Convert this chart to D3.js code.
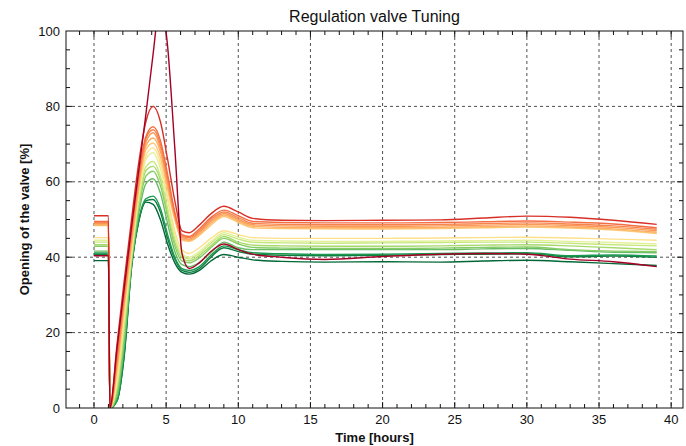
<!DOCTYPE html>
<html>
<head>
<meta charset="utf-8">
<script src="https://cdn.jsdelivr.net/npm/d3@7"></script>
<style>
body { margin: 0; background: #fff; }
text { font-family: "Liberation Sans", Arial, sans-serif; fill: #111; }
</style>
</head>
<body>
<svg id="chart" width="686" height="446"></svg>
<script>
// time stamps (hours) shared by all runs
var hours = [0, 1.0, 1.1, 1.6, 2.1, 2.6, 3.1, 3.6, 4.1, 4.6, 5.1, 5.6, 6.1, 6.6, 7.3, 8.1, 9.0, 10, 11, 13, 16, 20, 24, 27, 30, 33, 36, 39];

// valve opening [%] per tuning run, red (aggressive) -> green (soft)
var runOvershoot = [40.4, 40.4, 0, 16, 32, 48, 63, 78, 94, 108, 96, 69, 41, 37, 38.5, 41.5, 43.5, 42, 40.8, 40, 39.4, 40.2, 40.8, 41, 40.8, 39.5, 38.8, 37.5];
var run01 = [51, 51, 0, 17, 34, 50, 65, 76, 80, 76, 66, 55, 47, 46.5, 48.5, 51.5, 53.5, 52, 50.3, 49.8, 49.7, 49.8, 49.9, 50.4, 50.9, 50.6, 49.8, 48.7];
var run02 = [49.5, 49.5, 0, 14, 31, 47, 62, 72, 74.6, 71, 62, 52, 46, 45.5, 47.5, 50.5, 52.5, 51, 49.5, 49.2, 49.1, 49.1, 49.2, 49.4, 49.6, 49.3, 48.8, 47.8];
var run03 = [49.2, 49.2, 0, 13, 30, 46, 61, 71.5, 73.8, 70, 61, 51.5, 45.6, 45.2, 47, 50, 52, 50.5, 49, 48.7, 48.6, 48.6, 48.7, 48.9, 49.1, 48.8, 48.3, 47.4];
var run04 = [49, 49, 0, 12, 29, 45, 60, 70.5, 73, 69, 60, 51, 45.2, 44.8, 46.6, 49.5, 51.6, 50, 48.6, 48.3, 48.2, 48.2, 48.3, 48.5, 48.7, 48.4, 47.9, 47];
var run05 = [48.6, 48.6, 0, 11, 28, 44, 59, 69.5, 71.6, 68, 59, 50.5, 44.8, 44.5, 46.2, 49, 51.2, 49.6, 48.2, 47.9, 47.8, 47.8, 47.9, 48.1, 48.3, 48, 47.5, 46.6];
var run06 = [48.4, 48.4, 0, 10, 27, 43, 58, 68.5, 70.3, 66.5, 58, 50, 44.5, 44.2, 45.8, 48.5, 50.8, 49.2, 47.8, 47.6, 47.5, 47.5, 47.6, 47.8, 48, 47.7, 47.2, 46.3];
var run07 = [45.2, 45.2, 0, 8, 25, 42, 57, 67, 69, 65, 56, 47, 42, 41, 42.5, 45, 47, 46, 45.2, 45, 45, 45, 45.1, 45.2, 45.3, 45.1, 44.8, 44.5];
var run08 = [44.5, 44.5, 0, 7, 24, 41, 56, 66, 67.7, 63.5, 55, 46, 41, 40, 41.5, 44.2, 46.5, 45.3, 44.5, 44.3, 44.2, 44.2, 44.3, 44.4, 44.5, 44.2, 43.9, 43.5];
var run09 = [44, 44, 0, 6, 22, 40, 55, 64, 65.4, 61.5, 53, 45, 40.5, 39.5, 41, 43.7, 46, 44.8, 44, 43.8, 43.7, 43.8, 43.9, 44, 44, 43.7, 43.3, 43];
var run10 = [43.3, 43.3, 0, 5, 21, 40, 54, 63, 64.1, 60.5, 52, 44, 39.8, 39, 40.4, 43, 45.5, 44, 43.2, 43, 42.9, 42.9, 43, 43.2, 43.3, 43, 42.5, 42];
var run11 = [42.9, 42.9, 0, 4, 19, 39, 53, 61.5, 62.8, 59, 51, 43, 39, 38.5, 39.8, 42.5, 45, 43.5, 42.6, 42.4, 42.3, 42.3, 42.4, 42.6, 42.7, 42, 41.6, 41.5];
var run12 = [41.6, 41.6, 0, 3, 17, 38, 51.5, 59.5, 60.8, 57, 49, 41.5, 38, 37.5, 38.6, 41.2, 44, 42.5, 42, 42, 42, 42, 42, 42.2, 42.3, 41.8, 41.3, 41.2];
var run13 = [41.1, 41.1, 0, 2, 15, 38, 50, 55.5, 56.2, 53, 46, 40, 37, 36.5, 37.5, 40.5, 43, 42, 41.2, 40.9, 40.7, 40.8, 41, 41.1, 41.2, 40.4, 40.6, 40.3];
var run14 = [40.8, 40.8, 0, 2, 14.5, 37.5, 49.5, 55, 55.3, 52, 45, 39.5, 36.5, 36, 37, 40, 42.5, 41.5, 40.8, 40.5, 40.4, 40.5, 40.7, 40.8, 40.9, 40.1, 40.3, 40];
var run15 = [39.1, 39.1, 0, 2, 14, 37, 49.5, 54.6, 54, 50, 43.5, 38.5, 36, 35.5, 36.5, 39, 40.7, 40, 39.3, 38.9, 38.7, 38.8, 38.7, 39, 39.2, 38.8, 38.3, 37.8];

var runs = [run15, run14, run13, run12, run11, run10, run09, run08, run07, run06, run05, run04, run03, run02, run01, runOvershoot];
var runColors = ["#006837", "#0f7d40", "#1a9850", "#66bd63", "#86cb66", "#a6d96a", "#c7e77f", "#e3f29a", "#fee08b", "#fdc574", "#fdae61", "#fb9a57", "#f7844c", "#f46d43", "#d73027", "#a50026"];

var xTicks = [0, 5, 10, 15, 20, 25, 30, 35, 40];
var yTicks = [0, 20, 40, 60, 80, 100];

var drawChart = function () {
  var svg = d3.select("#chart");
  var left = 66, right = 683, plotTop = 31, bottom = 408;

  var x = d3.scaleLinear().domain([-1.94, 40.82]).range([left, right]);
  var y = d3.scaleLinear().domain([0, 100]).range([bottom, plotTop]);

  svg.append("clipPath").attr("id", "plotClip")
    .append("rect").attr("x", left).attr("y", plotTop)
    .attr("width", right - left).attr("height", bottom - plotTop);

  // dashed grid
  var grid = svg.append("g").attr("stroke", "#222").attr("stroke-width", 0.8)
    .attr("stroke-dasharray", "3,3");
  grid.selectAll(".gx").data(xTicks).enter().append("line")
    .attr("x1", function (d) { return x(d); }).attr("x2", function (d) { return x(d); })
    .attr("y1", plotTop).attr("y2", bottom);
  grid.selectAll(".gy").data(yTicks.slice(1, -1)).enter().append("line")
    .attr("x1", left).attr("x2", right)
    .attr("y1", function (d) { return y(d); }).attr("y2", function (d) { return y(d); });

  // minor + major inward ticks on all sides
  var tk = svg.append("g").attr("stroke", "#111").attr("stroke-width", 1);
  d3.range(-1, 41, 1).forEach(function (d) {
    var len = d % 5 === 0 ? 6 : 4;
    tk.append("line").attr("x1", x(d)).attr("x2", x(d)).attr("y1", bottom).attr("y2", bottom - len);
    tk.append("line").attr("x1", x(d)).attr("x2", x(d)).attr("y1", plotTop).attr("y2", plotTop + len);
  });
  d3.range(5, 100, 5).forEach(function (d) {
    var len = d % 20 === 0 ? 6 : 4;
    tk.append("line").attr("x1", left).attr("x2", left + len).attr("y1", y(d)).attr("y2", y(d));
    tk.append("line").attr("x1", right).attr("x2", right - len).attr("y1", y(d)).attr("y2", y(d));
  });

  // runs
  var line = d3.line()
    .x(function (d, i) { return x(hours[i]); })
    .y(function (d) { return y(d); })
    .curve(d3.curveMonotoneX);

  svg.append("g").attr("clip-path", "url(#plotClip)")
    .selectAll("path").data(runs).enter().append("path")
    .attr("d", line)
    .attr("fill", "none")
    .attr("stroke", function (d, i) { return runColors[i]; })
    .attr("stroke-width", 1.4);

  // frame
  svg.append("rect").attr("x", left).attr("y", plotTop)
    .attr("width", right - left).attr("height", bottom - plotTop)
    .attr("fill", "none").attr("stroke", "#111").attr("stroke-width", 1);

  // tick labels
  svg.selectAll(".xl").data(xTicks).enter().append("text")
    .attr("x", function (d) { return x(d); }).attr("y", bottom + 16)
    .attr("text-anchor", "middle").attr("font-size", 13).text(function (d) { return d; });
  svg.selectAll(".yl").data(yTicks).enter().append("text")
    .attr("x", left - 6).attr("y", function (d) { return y(d) + 4.5; })
    .attr("text-anchor", "end").attr("font-size", 13).text(function (d) { return d; });

  // titles
  svg.append("text").attr("x", (left + right) / 2).attr("y", 22)
    .attr("text-anchor", "middle").attr("font-size", 16).text("Regulation valve Tuning");
  svg.append("text").attr("x", (left + right) / 2).attr("y", 442)
    .attr("text-anchor", "middle").attr("font-size", 13).attr("font-weight", "bold").text("Time [hours]");
  svg.append("text").attr("transform", "translate(29," + ((plotTop + bottom) / 2) + ") rotate(-90)")
    .attr("text-anchor", "middle").attr("font-size", 13).attr("font-weight", "bold").text("Opening of the valve [%]");
};

drawChart();
</script>
</body>
</html>
